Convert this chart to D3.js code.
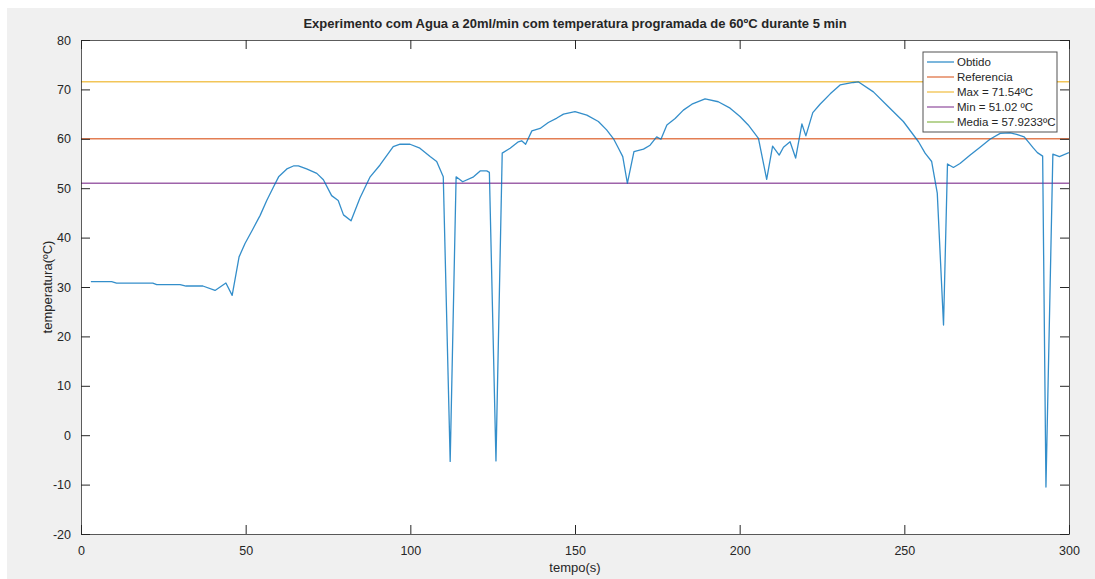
<!DOCTYPE html>
<html lang="pt">
<head>
    <meta charset="UTF-8">
    <title>Experimento com Agua</title>
    <script src="https://d3js.org/d3.v7.min.js"></script>
    <style>
        body { margin: 0; background: #fff; font-family: "Liberation Sans", Arial, sans-serif; }
        text { fill: #262626; }
    </style>
</head>
<body>
<div id="chart"></div>
<script>
    // measured series (tempo in s, temperatura in ºC)
    const tempo = [3, 9.3, 10.8, 21.8, 23, 30.1, 31.9, 37, 40.7, 44, 45.9, 48, 49.8, 52, 54.4, 56.4, 58.4, 60,
        62.5, 64.5, 66, 68.5, 71.6, 73.6, 76.1, 78.1, 79.7, 82, 84.7, 87.8, 90.8, 94.8, 96.9, 99.9, 102.9,
        106, 108, 110, 112.1, 113.9, 115.9, 119.2, 121.2, 123.2, 124, 126, 127.9, 130.3, 132.8, 133.8, 135,
        136.9, 139.4, 141.9, 144.5, 146.5, 150, 153.6, 157.1, 159.6, 161.7, 163.2, 164.5, 165.9, 167.9,
        170.8, 172.8, 174.8, 176.1, 177.9, 180.4, 182.9, 185.5, 189.5, 193.5, 197.1, 200.1, 202.6, 205.7,
        208.2, 210, 212, 213.3, 215.3, 217, 218.9, 220.1, 222.2, 224.4, 227.5, 230.5, 234.5, 236, 240.6,
        244.7, 249.7, 254.3, 256.3, 258.3, 260, 261.9, 263.1, 264.9, 266.9, 270, 273, 276, 279.1, 282.1,
        284.1, 286.4, 289.2, 290.4, 292, 293, 295.1, 297.1, 300];
    const temperatura = [31.1, 31.1, 30.8, 30.8, 30.5, 30.5, 30.2, 30.2, 29.3, 30.8, 28.3, 36.1, 38.8, 41.5, 44.5, 47.5, 50.2, 52.3,
        53.9, 54.5, 54.5, 53.9, 53.0, 51.7, 48.5, 47.5, 44.6, 43.4, 48.0, 52.3, 54.7, 58.4, 58.9, 58.9, 58.1,
        56.4, 55.4, 52.3, -5.3, 52.3, 51.3, 52.3, 53.5, 53.5, 53.2, -5.2, 57.1, 58.1, 59.4, 59.6, 58.9,
        61.6, 62.1, 63.3, 64.2, 65.0, 65.5, 64.8, 63.5, 61.8, 60.0, 58.1, 56.4, 51.0, 57.4,
        57.9, 58.7, 60.4, 59.9, 62.8, 64.1, 65.8, 67.0, 68.1, 67.5, 66.2, 64.5, 62.8, 60.1,
        51.8, 58.5, 56.7, 58.3, 59.4, 56.1, 63.0, 60.6, 65.3, 67.0, 69.1, 70.9, 71.4, 71.54, 69.5,
        66.8, 63.5, 59.4, 57.1, 55.4, 49.0, 22.3, 54.9, 54.2, 55.0, 56.7, 58.3, 59.9, 61.1, 61.2,
        60.9, 60.4, 58.1, 57.2, 56.5, -10.5, 56.9, 56.4, 57.2];

    // horizontal reference lines
    const refNames = ["Referencia", "Max = 71.54ºC", "Min = 51.02 ºC"];
    const refValues = [60, 71.54, 51.02];
    const legendNames = ["Obtido", "Referencia", "Max = 71.54ºC", "Min = 51.02 ºC", "Media = 57.9233ºC"];
    const legendColors = ["#0072BD", "#D95319", "#EDB120", "#7E2F8E", "#77AC30"];

    const xTicks = [0, 50, 100, 150, 200, 250, 300];
    const yTicks = [-20, -10, 0, 10, 20, 30, 40, 50, 60, 70, 80];

    const W = 1095, H = 579;
    const plot = { left: 81, right: 1069, top: 40, bottom: 534 };

    const svg = d3.select("#chart").append("svg")
        .attr("width", W).attr("height", H);

    // grey figure background
    svg.append("rect").attr("x", 7).attr("y", 8).attr("width", W - 7).attr("height", H - 8)
        .attr("fill", "#f0f0f0");
    svg.append("rect").attr("x", plot.left).attr("y", plot.top)
        .attr("width", plot.right - plot.left).attr("height", plot.bottom - plot.top)
        .attr("fill", "#fff");

    const x = d3.scaleLinear().domain([0, 300]).range([plot.left, plot.right]);
    const y = d3.scaleLinear().domain([-20, 80]).range([plot.bottom, plot.top]);

    const clip = svg.append("clipPath").attr("id", "clip").append("rect")
        .attr("x", plot.left).attr("y", plot.top)
        .attr("width", plot.right - plot.left).attr("height", plot.bottom - plot.top);

    const g = svg.append("g").attr("clip-path", "url(#clip)");

    // reference lines
    g.selectAll("line.ref")
        .data(refValues)
        .join("line")
        .attr("class", "ref")
        .attr("x1", x(0)).attr("x2", x(300))
        .attr("y1", d => y(d)).attr("y2", d => y(d))
        .attr("stroke", (d, i) => legendColors[i + 1])
        .attr("stroke-opacity", 0.75)
        .attr("stroke-width", 1.5);

    // measured curve
    const series = tempo.map((t, i) => [t, temperatura[i]]);
    g.append("path")
        .datum(series)
        .attr("fill", "none")
        .attr("stroke", "#0072BD")
        .attr("stroke-opacity", 0.8)
        .attr("stroke-width", 1.3)
        .attr("stroke-linejoin", "round")
        .attr("d", d3.line().x(d => x(d[0])).y(d => y(d[1])));

    // axes, MATLAB style: ticks inside, box on
    const tickLen = 9;
    const axisColor = "#262626";
    const fmt = d => d;

    const xAxis = svg.append("g").attr("transform", `translate(0,${plot.bottom})`)
        .call(d3.axisBottom(x).tickValues(xTicks).tickSizeInner(-tickLen).tickSizeOuter(0).tickPadding(14).tickFormat(fmt));
    const yAxis = svg.append("g").attr("transform", `translate(${plot.left},0)`)
        .call(d3.axisLeft(y).tickValues(yTicks).tickSizeInner(-tickLen).tickSizeOuter(0).tickPadding(14).tickFormat(fmt));
    const xTop = svg.append("g").attr("transform", `translate(0,${plot.top})`)
        .call(d3.axisTop(x).tickValues(xTicks).tickSizeInner(-tickLen).tickSizeOuter(0).tickFormat(""));
    const yRight = svg.append("g").attr("transform", `translate(${plot.right},0)`)
        .call(d3.axisRight(y).tickValues(yTicks).tickSizeInner(-tickLen).tickSizeOuter(0).tickFormat(""));

    [xAxis, yAxis, xTop, yRight].forEach(a => {
        a.select(".domain").attr("stroke", axisColor).attr("stroke-opacity", 0.75);
        a.selectAll(".tick line").attr("stroke", axisColor);
        a.selectAll(".tick text")
            .attr("font-family", '"Liberation Sans", Arial, sans-serif')
            .attr("font-size", 12.5).attr("fill", "#404040");
    });
    xAxis.selectAll(".tick text").attr("dy", "0.55em");
    yAxis.selectAll(".tick text").attr("dx", "4px");

    // labels
    svg.append("text")
        .attr("x", (plot.left + plot.right) / 2).attr("y", 28)
        .attr("text-anchor", "middle")
        .attr("font-size", 13).attr("font-weight", "bold")
        .attr("fill", "#000")
        .text("Experimento com Agua a 20ml/min com temperatura programada de 60ºC durante 5 min");

    svg.append("text")
        .attr("x", (plot.left + plot.right) / 2).attr("y", 572)
        .attr("text-anchor", "middle")
        .attr("font-size", 13).attr("fill", "#262626")
        .text("tempo(s)");

    svg.append("text")
        .attr("transform", `translate(52,${(plot.top + plot.bottom) / 2}) rotate(-90)`)
        .attr("text-anchor", "middle")
        .attr("font-size", 13).attr("fill", "#262626")
        .text("temperatura(ºC)");

    // legend
    const leg = svg.append("g").attr("transform", "translate(923,52)");
    leg.append("rect").attr("width", 134).attr("height", 80)
        .attr("fill", "#fff").attr("stroke", "#262626").attr("stroke-opacity", 0.8);
    const item = leg.selectAll("g.item")
        .data(legendNames)
        .join("g")
        .attr("class", "item")
        .attr("transform", (d, i) => `translate(0,${10 + i * 15})`);
    item.append("line")
        .attr("x1", 4).attr("x2", 31)
        .attr("stroke", (d, i) => legendColors[i])
        .attr("stroke-opacity", 0.8)
        .attr("stroke-width", 1.3);
    item.append("text")
        .attr("x", 34).attr("dy", "0.35em")
        .attr("font-size", 11.5).attr("fill", "#000")
        .text(d => d);
</script>
</body>
</html>
